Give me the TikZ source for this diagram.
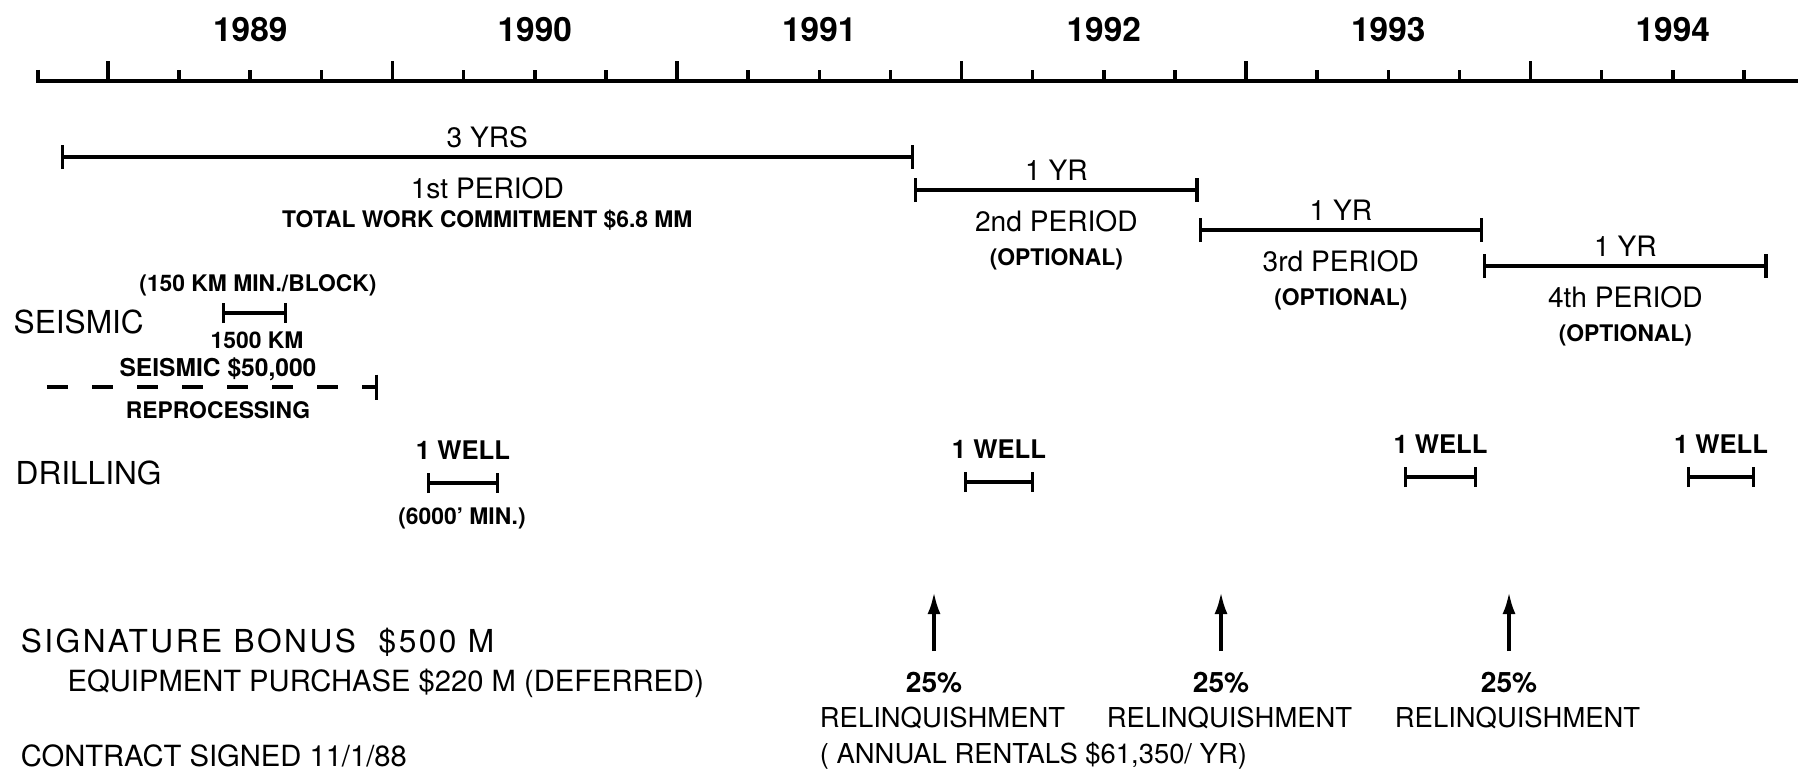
\documentclass[tikz,border=0pt]{standalone}
\usepackage{fontspec}
\setmainfont{TeX Gyre Heros}
\newfontfamily\widefont{TeX Gyre Heros}[LetterSpace=8]
\usetikzlibrary{arrows.meta, positioning}
\tikzstyle{yearlbl} = [font=\fontsize{9.5}{11}\selectfont\bfseries]
\tikzstyle{rowlbl} = [anchor=west, inner sep=0pt, font=\fontsize{9}{11}\selectfont]
\tikzstyle{sublbl} = [anchor=west, inner sep=0pt, font=\fontsize{8.3}{10}\selectfont]
\tikzstyle{perlbl} = [font=\fontsize{8}{10}\selectfont]
\tikzstyle{note} = [font=\fontsize{6.5}{8}\selectfont\bfseries]
\tikzstyle{welllbl} = [font=\fontsize{7.3}{9}\selectfont\bfseries]
\tikzstyle{relqlbl} = [font=\fontsize{7.8}{9}\selectfont]
\tikzstyle{periodspan} = [line width=0.9pt, {Bar[width=0.24cm]}-{Bar[width=0.24cm]}]
\tikzstyle{wellspan} = [line width=0.9pt, {Bar[width=0.2cm]}-{Bar[width=0.2cm]}]
\tikzstyle{arrow} = [line width=1pt, -{Latex[length=0.22cm,width=0.13cm]}]

\begin{document}
\begin{tikzpicture}[x=2.845cm, y=1cm]
   \useasboundingbox (-0.3796,0) rectangle (5.9402,-7.71);

   % time scale, one tick per quarter
   \draw[line width=1.3pt] (-0.246,-0.70) -- (-0.246,-0.81) -- (5.95,-0.81);
   \foreach \q in {0,...,23} {
      \pgfmathsetmacro{\tk}{ifthenelse(mod(\q,4)==0,0.20,0.11)}
      \draw[line width=1pt] (\q/4,-0.81) -- ++(0,\tk);
   }
   \foreach \yr [count=\i from 0] in {1989,...,1994}
      \node[yearlbl] (y\yr) at (\i+0.5,-0.30) {\yr};

   % first period
   \coordinate (p1-s) at (-1/6,-1.57);
   \coordinate (p1-e) at (17/6,-1.57);
   \draw[periodspan] (p1-s) -- (p1-e);
   \node[perlbl] (p1len) at (4/3,-1.37) {3 YRS};
   \node[perlbl] (p1name) at (4/3,-1.88) {1st PERIOD};
   \node[note] (p1work) at (4/3,-2.20) {TOTAL WORK COMMITMENT \$6.8 MM};

   % optional periods
   \foreach \n/\ord/\yb in {2/2nd/-1.90, 3/3rd/-2.30, 4/4th/-2.66} {
      \coordinate (p\n-s) at (\n+5/6,\yb);
      \coordinate (p\n-e) at (\n+11/6,\yb);
      \draw[periodspan] (p\n-s) -- (p\n-e);
      \node[perlbl] (p\n len) at (\n+4/3,\yb+0.20) {1 YR};
      \node[perlbl] (p\n name) at (\n+4/3,\yb-0.31) {\ord\ PERIOD};
      \node[note] (p\n opt) at (\n+4/3,\yb-0.69) {(OPTIONAL)};
   }

   % seismic
   \node[rowlbl] (seis) at (-0.334,-3.22) {SEISMIC};
   \node[note] (seismin) at (0.527,-2.85) {(150 KM MIN./BLOCK)};
   \coordinate (s-s) at (0.4007,-3.13);
   \coordinate (s-e) at (0.6292,-3.13);
   \draw[wellspan] (s-s) -- (s-e);
   \node[note] (seiskm) at (0.524,-3.40) {1500 KM};
   \coordinate (rp-s) at (-0.2144,-3.87);
   \coordinate (rp-e) at (0.949,-3.87);
   \draw[line width=0.9pt, dash pattern=on 0.21cm off 0.24cm, -{Bar[width=0.25cm]}] (rp-s) -- (rp-e);
   \node[note, anchor=south, inner sep=1.5pt, font=\fontsize{7}{8}\selectfont\bfseries] (rpcost) at (0.3866,-3.87) {SEISMIC \$50,000};
   \node[note] (rp) at (0.3866,-4.10) {REPROCESSING};

   % drilling
   \node[rowlbl] (drill) at (-0.327,-4.73) {DRILLING};
   \foreach \n/\a/\b/\yb in {1/1.1213/1.3743/-4.83, 2/3.0088/3.2548/-4.82, 3/4.5554/4.8120/-4.77, 4/5.5501/5.7891/-4.77} {
      \coordinate (w\n-s) at (\a,\yb);
      \coordinate (w\n-e) at (\b,\yb);
      \draw[wellspan] (w\n-s) -- node[welllbl, above=0.1cm] (w\n) {1 WELL} (w\n-e);
   }
   \node[note] (wmin) at (1.2443,-5.18) {(6000' MIN.)};

   % payments
   \node[rowlbl, font=\fontsize{9}{11}\widefont] (bonus) at (-0.309,-6.42) {SIGNATURE BONUS \ \$500 M};
   \node[sublbl] (equip) at (-0.144,-6.83) {EQUIPMENT PURCHASE \$220 M (DEFERRED)};
   \node[sublbl] (signed) at (-0.309,-7.56) {CONTRACT SIGNED 11/1/88};

   % relinquishments
   \foreach \n/\x in {1/2.9033, 2/3.9121, 3/4.9244} {
      \coordinate (r\n-t) at (\x,-5.92);
      \coordinate (r\n-b) at (\x,-6.51);
      \draw[arrow] (r\n-b) -- (r\n-t);
      \node[welllbl, font=\fontsize{8}{9}\selectfont\bfseries] (pct\n) at (\x,-6.83) {25\%};
      \node[relqlbl] (relq\n) at (\x+0.03,-7.18) {RELINQUISHMENT};
   }
   \node[relqlbl, anchor=west] (rent) at (relq1.west |- signed.west) {( ANNUAL RENTALS \$61,350/ YR)};
\end{tikzpicture}
\end{document}
